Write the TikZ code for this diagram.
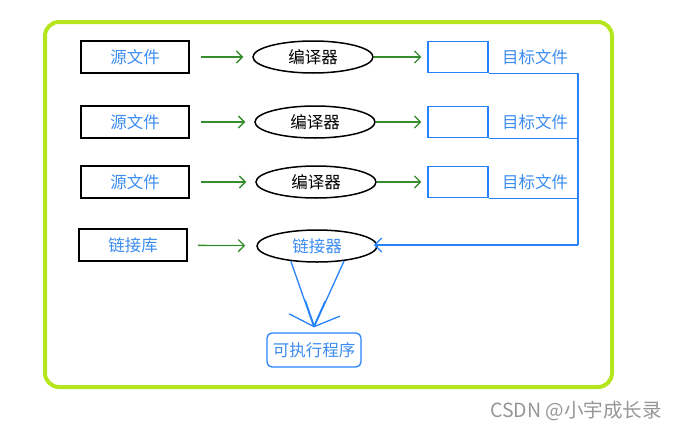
\documentclass[tikz,border=0pt]{standalone}
\usepackage{fontspec}
\newfontfamily\cjk{Noto Sans CJK SC}
\usetikzlibrary{shapes.geometric,arrows.meta}

\definecolor{frameg}{RGB}{181,230,29}
\definecolor{arrowg}{RGB}{55,140,45}
\definecolor{lineb}{RGB}{40,130,250}
\definecolor{textb}{RGB}{60,140,240}
\definecolor{markg}{RGB}{150,150,150}

\begin{document}
\begin{tikzpicture}[x=1pt,y=-1pt,
                        srcbox/.style={draw,line width=1.6pt,minimum width=108pt,minimum height=32pt,text=textb,font=\cjk\fontsize{16.5}{16.5}\selectfont},
                        tool/.style={draw,ellipse,line width=1.5pt,minimum width=120pt,minimum height=32pt,font=\cjk\fontsize{16.5}{16.5}\selectfont},
                        objbox/.style={draw=lineb,line width=1.3pt,minimum width=60pt,minimum height=31pt},
                        objname/.style={text=textb,font=\cjk\fontsize{16.5}{16.5}\selectfont},
                        feed/.style={arrowg,line width=1.3pt,-{Straight Barb[length=6pt,width=12pt]}},
                        link/.style={lineb,line width=1.3pt}]
      \useasboundingbox (0,0) rectangle (677,431);
      \draw[frameg,line width=4pt,rounded corners=14pt] (45,22) rectangle (612,387);

      \coordinate (bus) at (578,245);
      \foreach[count=\i] \y/\ex in {57/313,122/315,182/316} {
        \node[srcbox] (src\i) at (135,\y) {源文件};
        \node[tool] (cc\i) at (\ex,\y) {编译器};
        \node[objbox] (obj\i) at (458,\y) {};
        \node[objname] (lbl\i) at (535,\y) {目标文件};
        \draw[feed,shorten <=11pt,shorten >=9pt] (src\i) -- (cc\i);
        \draw[feed,shorten >=6pt] (cc\i) -- (obj\i);
        \draw[link] (obj\i.south east) -- (obj\i.south east -| bus);
      }

      \node[srcbox] (lib) at (133,245) {链接库};
      \node[tool,text=textb] (lk) at (317,246) {链接器};
      \node[draw=lineb,line width=1.3pt,rounded corners=5pt,minimum width=94pt,minimum height=34pt,
            text=textb,font=\cjk\fontsize{16.5}{16.5}\selectfont] (exe) at (314,350) {可执行程序};
      \node[text=markg,font=\cjk\fontsize{19.5}{19.5}\selectfont] (mark) at (576,411) {CSDN @小宇成长录};
      \coordinate (meet) at ([yshift=5pt]exe.north);

      \draw[feed,shorten <=10pt,shorten >=11pt] (lib) -- (lk);
      \draw[link] (obj1.south east -| bus) -- (bus);
      \draw[link,-{Straight Barb[length=7pt,width=14pt]},shorten >=-4pt] (bus) -- (bus -| lk.east);
      \draw[link,-{Straight Barb[length=20pt,width=38pt]}] (lk.210) -- (meet);
      \draw[link,-{Straight Barb[length=20pt,width=38pt]}] (lk.331) -- (meet);
    \end{tikzpicture}
\end{document}
